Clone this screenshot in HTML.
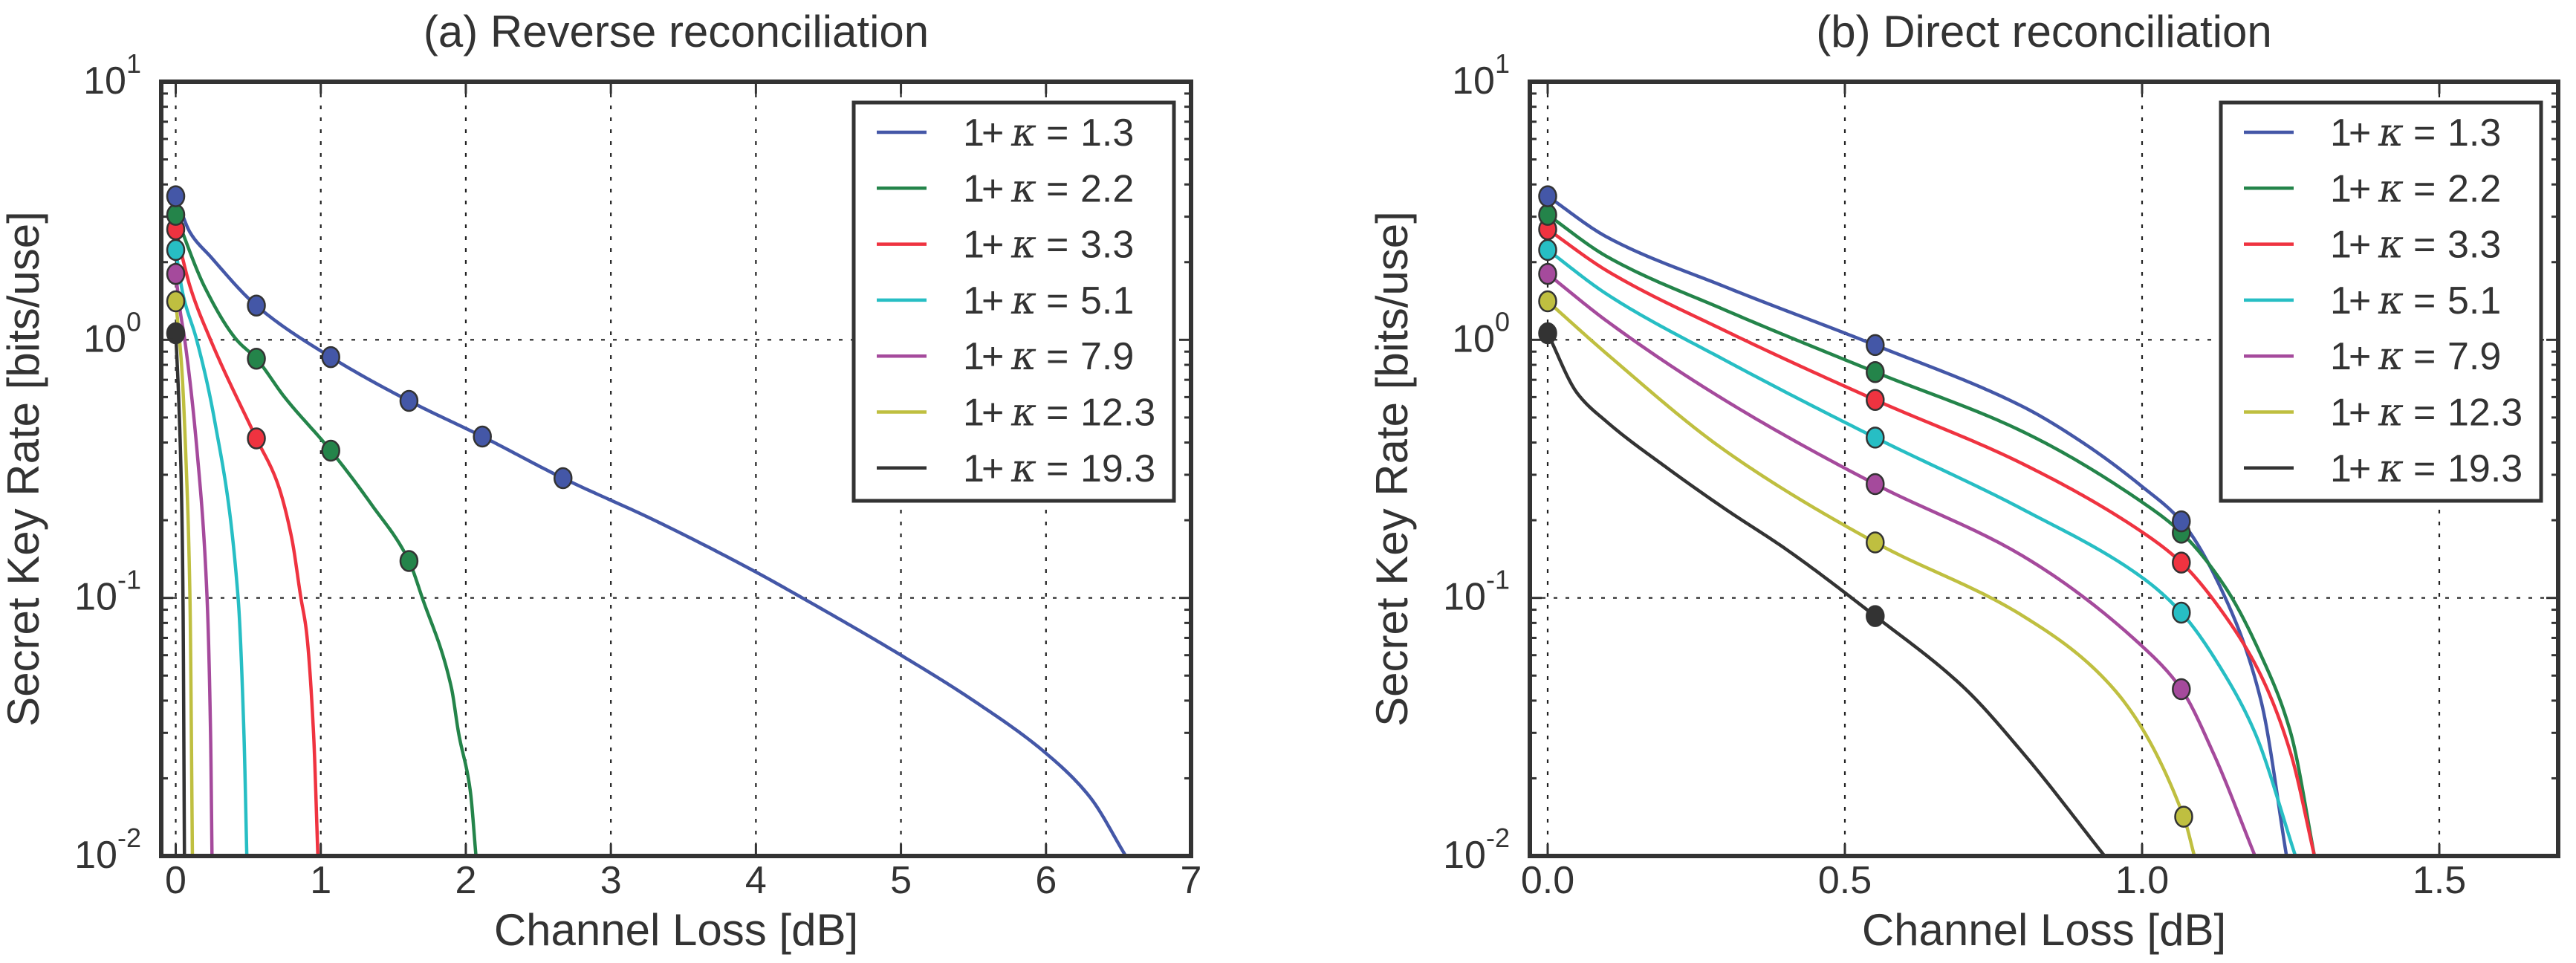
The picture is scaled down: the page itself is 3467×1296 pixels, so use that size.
<!DOCTYPE html>
<html><head><meta charset="utf-8"><style>
html,body{margin:0;padding:0;background:#fff}
svg{display:block}
text{font-family:"Liberation Sans","DejaVu Sans",sans-serif;fill:#333}
</style></head><body>
<svg id="fig" width="3467" height="1296" viewBox="0 0 3467 1296" xmlns="http://www.w3.org/2000/svg"></svg>
<script>
// ---- shared data ----
const seriesNames = ["1.3","2.2","3.3","5.1","7.9","12.3","19.3"];
const seriesColors = ["#4457a7","#24844a","#ef3340","#27bec4","#a54a9c","#bfbf40","#333333"];
const yTickExps = [-2,-1,0,1];
// ---- (a) reverse reconciliation ----
const revX = [
 [0,0.1,0.24,0.556,1.069,1.608,2.114,2.67,3.3,4.0,4.32,5.0,5.5,6.0,6.3,6.55],
 [0,0.2,0.42,0.556,0.75,1.069,1.35,1.608,1.7,1.9,1.95,2.03,2.07],
 [0,0.1,0.24,0.556,0.7,0.8,0.863,0.9,0.95,0.98],
 [0,0.05,0.144,0.27,0.43,0.47,0.49],
 [0,0.03,0.062,0.15,0.216,0.24,0.25],
 [0,0.04,0.07,0.098,0.115],
 [0,0.02,0.04,0.05,0.06]
];
const revY = [
 [3.6,2.6,2.1,1.357,0.857,0.58,0.422,0.291,0.2,0.126,0.1,0.06,0.04,0.025,0.017,0.01],
 [3.05,1.6,1.0,0.845,0.6,0.372,0.23,0.139,0.1,0.045,0.03,0.018,0.01],
 [2.68,1.6,1.0,0.415,0.28,0.17,0.1,0.075,0.03,0.01],
 [2.23,1.5,1.0,0.48,0.1,0.03,0.01],
 [1.8,1.3,1.0,0.355,0.1,0.03,0.01],
 [1.41,0.8,0.35,0.1,0.01],
 [1.06,0.6,0.25,0.1,0.01]
];
const revMarkX = [[0,0.556,1.069,1.608,2.114,2.67],[0,0.556,1.069,1.608],[0,0.556],[0],[0],[0],[0]];
const revMarkY = [[3.6,1.357,0.857,0.58,0.422,0.291],[3.05,0.845,0.372,0.139],[2.68,0.415],[2.23],[1.8],[1.41],[1.06]];
// ---- (b) direct reconciliation ----
const dirX = [
 [0,0.1,0.3,0.551,0.8,0.9,1.0,1.066,1.14,1.2,1.243],
 [0,0.1,0.3,0.551,0.8,1.0,1.066,1.14,1.2,1.25,1.29],
 [0,0.1,0.3,0.551,0.8,1.0,1.066,1.14,1.2,1.25,1.29],
 [0,0.1,0.3,0.551,0.8,1.0,1.066,1.14,1.19,1.258],
 [0,0.1,0.3,0.551,0.8,1.0,1.066,1.12,1.19],
 [0,0.1,0.3,0.551,0.8,0.95,1.07,1.088],
 [0,0.05,0.1,0.2,0.3,0.4,0.551,0.7,0.8,0.937]
];
const dirY = [
 [3.6,2.5,1.6,0.954,0.55,0.4,0.27,0.198,0.1,0.04,0.01],
 [3.05,2.1,1.3,0.75,0.44,0.235,0.179,0.11,0.06,0.03,0.01],
 [2.68,1.85,1.08,0.585,0.33,0.18,0.137,0.085,0.05,0.025,0.01],
 [2.23,1.5,0.83,0.418,0.22,0.12,0.0877,0.05,0.03,0.01],
 [1.8,1.18,0.58,0.276,0.145,0.065,0.0443,0.025,0.01],
 [1.41,0.88,0.37,0.164,0.085,0.045,0.0142,0.01],
 [1.06,0.62,0.48,0.32,0.22,0.155,0.085,0.045,0.025,0.01]
];
const dirMarkX = [[0,0.551,1.066],[0,0.551,1.066],[0,0.551,1.066],[0,0.551,1.066],[0,0.551,1.066],[0,0.551,1.07],[0,0.551]];
const dirMarkY = [[3.6,0.954,0.198],[3.05,0.75,0.179],[2.68,0.585,0.137],[2.23,0.418,0.0877],[1.8,0.276,0.0443],[1.41,0.164,0.0142],[1.06,0.085]];
const revXTicks = [0,1,2,3,4,5,6,7];
const revXTickLabels = ["0","1","2","3","4","5","6","7"];
const dirXTicks = [0,0.5,1.0,1.5];
const dirXTickLabels = ["0.0","0.5","1.0","1.5"];

const NS = "http://www.w3.org/2000/svg";
const svg = document.getElementById('fig');
function mk(tag, attrs, parent){
  const e = document.createElementNS(NS, tag);
  for (const k in attrs) e.setAttribute(k, attrs[k]);
  (parent||svg).appendChild(e); return e;
}
// monotone cubic (Fritsch-Carlson) interpolation of log10(y) over x
function monoSample(xs, ys, n){
  const m = xs.length, ly = ys.map(v=>Math.log10(v));
  if (m < 2) return [[xs[0], ys[0]]];
  const h=[], d=[];
  for (let i=0;i<m-1;i++){ h.push(xs[i+1]-xs[i]); d.push((ly[i+1]-ly[i])/h[i]); }
  const t = new Array(m);
  t[0]=d[0]; t[m-1]=d[m-2];
  for (let i=1;i<m-1;i++){
    if (d[i-1]*d[i] <= 0) t[i]=0;
    else { const w1=2*h[i]+h[i-1], w2=h[i]+2*h[i-1]; t[i]=(w1+w2)/(w1/d[i-1]+w2/d[i]); }
  }
  const out=[];
  for (let i=0;i<m-1;i++){
    for (let k=0;k<n;k++){
      const s=k/n, s2=s*s, s3=s2*s;
      const v=(2*s3-3*s2+1)*ly[i]+(s3-2*s2+s)*h[i]*t[i]+(-2*s3+3*s2)*ly[i+1]+(s3-s2)*h[i]*t[i+1];
      out.push([xs[i]+s*h[i], Math.pow(10,v)]);
    }
  }
  out.push([xs[m-1], ys[m-1]]);
  return out;
}
function drawPanel(p){
  const {L,R,T,B,xmin,xmax,title,xs,ys,mxs,mys,xt,xtl,id} = p;
  const g = mk('g',{});
  
  
  const ymin=-2, ymax=1;
  const X = v => L + (v-xmin)/(xmax-xmin)*(R-L);
  const Y = v => B - (Math.log10(v)-ymin)/(ymax-ymin)*(B-T);
  const YE = e => B - (e-ymin)/(ymax-ymin)*(B-T);
  const cp = mk('clipPath',{id:id+'clip'},g);
  mk('rect',{x:L,y:T,width:R-L,height:B-T},cp);
  xt.forEach(v=>{ const l=mk('line',{x1:X(v),x2:X(v),y1:T,y2:B,stroke:'#222','stroke-width':2.2,'stroke-dasharray':'5 11'},g);
      });
  yTickExps.forEach(e=>{ const l=mk('line',{x1:L,x2:R,y1:YE(e),y2:YE(e),stroke:'#222','stroke-width':2.2,'stroke-dasharray':'5 11'},g);
      });
  for (let s=0;s<xs.length;s++){
    const pts = monoSample(xs[s], ys[s], 40);
    const d = pts.map((q,i)=>(i?'L':'M')+X(q[0]).toFixed(2)+','+Y(q[1]).toFixed(2)).join(' ');
    const path = mk('path',{d:d,fill:'none',stroke:seriesColors[s],'stroke-width':4.5,'stroke-linejoin':'round','clip-path':'url(#'+id+'clip)'},g);
    
    
  }
  for (let s=xs.length-1;s>=0;s--){
    mxs[s].forEach((x,i)=>{
      const c = mk('ellipse',{cx:X(x),cy:Y(mys[s][i]),rx:11.5,ry:13.5,fill:seriesColors[s],stroke:'#333','stroke-width':2.5},g);
      
      
    });
  }
  const fr = mk('rect',{x:L,y:T,width:R-L,height:B-T,fill:'none',stroke:'#333','stroke-width':6},g);
   
  xt.forEach((v,i)=>{
    mk('line',{x1:X(v),x2:X(v),y1:B,y2:B-16,stroke:'#333','stroke-width':3},g);
    mk('line',{x1:X(v),x2:X(v),y1:T,y2:T+16,stroke:'#333','stroke-width':3},g);
    const t = mk('text',{x:X(v),y:1202,'font-size':52,'text-anchor':'middle'},g);
    t.textContent = xtl[i];
     
  });
  yTickExps.forEach(e=>{
    const y=YE(e);
    mk('line',{x1:L,x2:L+16,y1:y,y2:y,stroke:'#333','stroke-width':3},g);
    mk('line',{x1:R,x2:R-16,y1:y,y2:y,stroke:'#333','stroke-width':3},g);
    if (e<ymax) for (let m=2;m<=9;m++){
      const ym = YE(e+Math.log10(m));
      mk('line',{x1:L,x2:L+9,y1:ym,y2:ym,stroke:'#333','stroke-width':3},g);
      mk('line',{x1:R,x2:R-9,y1:ym,y2:ym,stroke:'#333','stroke-width':3},g);
    }
    const t = mk('text',{x:L-27,y:y+16,'font-size':52,'text-anchor':'end'},g);
     
    const a = mk('tspan',{},t); a.textContent='10';
    const b = mk('tspan',{dy:-28,'font-size':36},t); b.textContent=String(e);
  });
  const ti = mk('text',{x:(L+R)/2,y:63,'font-size':60,'text-anchor':'middle'},g);
  ti.textContent = title;  
  const xl = mk('text',{x:(L+R)/2,y:1272,'font-size':60,'text-anchor':'middle'},g);
  xl.textContent='Channel Loss [dB]';  
  const yx=L-165, yy=(T+B)/2;
  const yl = mk('text',{x:yx,y:yy,'font-size':60,'text-anchor':'middle',transform:'rotate(-90 '+yx+' '+yy+')'},g);
  yl.textContent='Secret Key Rate [bits/use]';  
  const lg = mk('g',{},g);
   
  const lx = R-23-431;
  mk('rect',{x:lx,y:138,width:431,height:536,fill:'#fff',stroke:'#333','stroke-width':5},lg);
  seriesNames.forEach((n,i)=>{
    const y = 178+i*75.3;
    const ln = mk('line',{x1:lx+31,x2:lx+98,y1:y,y2:y,stroke:seriesColors[i],'stroke-width':4.5},lg);
     
    const t = mk('text',{y:y+18,'font-size':52,'font-family':'DejaVu Sans, sans-serif'},lg);
     
    const a=mk('tspan',{x:lx+147},t); a.textContent='1';
    const pl=mk('tspan',{x:lx+172},t); pl.textContent='+';
    const k=mk('tspan',{x:lx+212,'font-style':'italic','font-family':'DejaVu Serif, serif'},t); k.textContent='κ';
    const eq=mk('tspan',{x:lx+259},t); eq.textContent='=';
    const c=mk('tspan',{x:lx+305},t); c.textContent=n;
  });
}
drawPanel({id:'reverse',L:217,R:1603,T:110,B:1152,xmin:-0.1,xmax:7,title:'(a) Reverse reconciliation',
  xs:revX,ys:revY,mxs:revMarkX,mys:revMarkY,xt:revXTicks,xtl:revXTickLabels});
drawPanel({id:'direct',L:2059,R:3443,T:110,B:1152,xmin:-0.03,xmax:1.7,title:'(b) Direct reconciliation',
  xs:dirX,ys:dirY,mxs:dirMarkX,mys:dirMarkY,xt:dirXTicks,xtl:dirXTickLabels});
</script>
</body></html>
